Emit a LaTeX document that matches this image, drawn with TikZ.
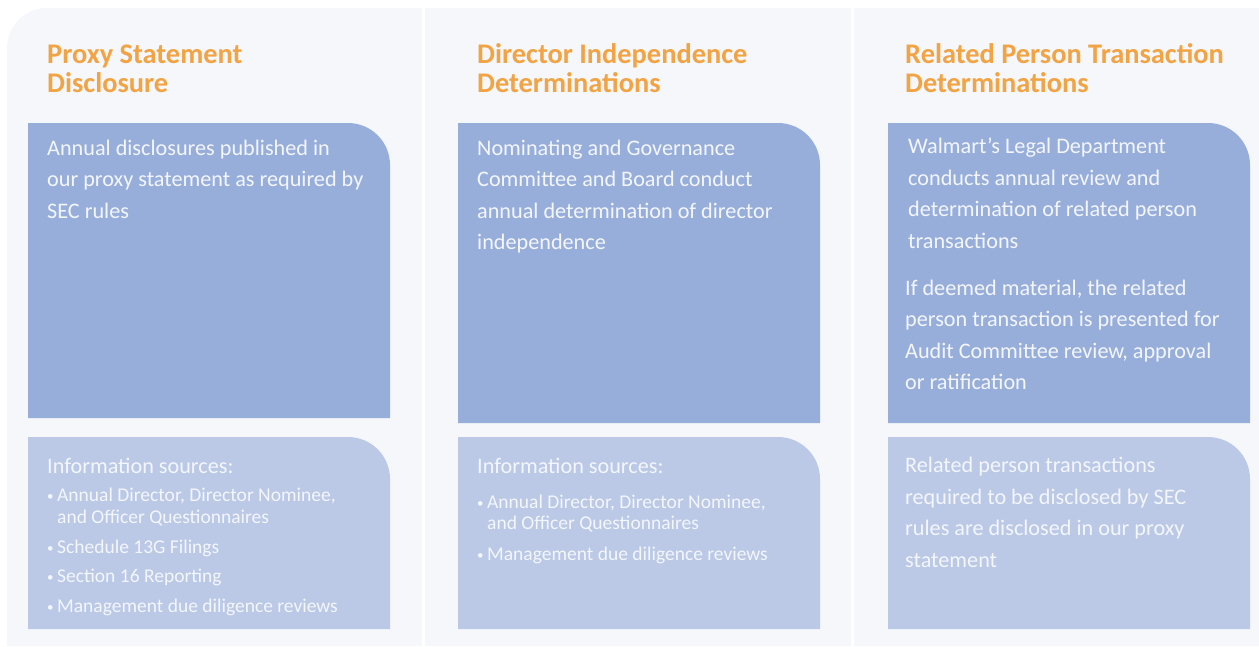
\documentclass[tikz,border=0pt]{standalone}
\usepackage{fontspec}
\setmainfont{Carlito}

\definecolor{panelbg}{RGB}{245,247,251}
\definecolor{darkblue}{RGB}{152,174,218}
\definecolor{lightblue}{RGB}{187,201,230}
\definecolor{titleorange}{RGB}{242,163,67}
\definecolor{boxtext}{RGB}{243,246,252}

\newcommand{\bul}{\makebox[10pt][l]{\raisebox{1pt}{\fontsize{13}{13}\selectfont\textbullet}}}

\begin{document}
\begin{tikzpicture}[x=1pt,y=-1pt,
    panel/.style={fill=panelbg},
    dark box/.style={fill=darkblue},
    light box/.style={fill=lightblue},
    % base anchor of a multi-line node sits on its last line
    head node/.style={anchor=base west,inner sep=0pt,align=left,
      text=titleorange,font=\fontsize{28.4}{29}\selectfont\bfseries},
    main node/.style={anchor=base west,inner sep=0pt,align=left,
      text=boxtext,font=\fontsize{22.2}{31.5}\selectfont},
    bullet node/.style={anchor=base west,inner sep=0pt,align=left,
      text=boxtext,font=\fontsize{19.5}{21.5}\selectfont}]

    \useasboundingbox (0,0) rectangle (1259,646);

    % background panel and column gaps
    \fill[panel] (7,646) -- (7,48) arc[start angle=180,end angle=270,radius=40]
      -- (1259,8) -- (1259,646) -- cycle;
    \draw[white,line width=3pt] (423,8) -- (423,646);
    \draw[white,line width=3pt] (852,8) -- (852,646);

    % upper boxes
    \fill[dark box] (28,418) -- (28,123) -- (348,123)
      arc[start angle=-90,end angle=0,radius=42] -- (390,418) -- cycle;
    \fill[dark box] (458,423) -- (458,123) -- (778,123)
      arc[start angle=-90,end angle=0,radius=42] -- (820,423) -- cycle;
    \fill[dark box] (888,423) -- (888,123) -- (1208,123)
      arc[start angle=-90,end angle=0,radius=42] -- (1250,423) -- cycle;

    % lower boxes
    \fill[light box] (28,629) -- (28,437) -- (348,437)
      arc[start angle=-90,end angle=0,radius=42] -- (390,629) -- cycle;
    \fill[light box] (458,629) -- (458,437) -- (778,437)
      arc[start angle=-90,end angle=0,radius=42] -- (820,629) -- cycle;
    \fill[light box] (888,629) -- (888,437) -- (1208,437)
      arc[start angle=-90,end angle=0,radius=42] -- (1250,629) -- cycle;

    \node[head node] (h1) at (47,92) {Proxy Statement\\Disclosure};
    \node[head node] (h2) at (477,92) {Director Independence\\Determinations};
    \node[head node] (h3) at (905,92) {Related Person Transaction\\Determinations};

    \node[main node] (m1) at (47,218) {Annual disclosures published in\\
      our proxy statement as required by\\SEC rules};
    \node[main node] (m2) at (477,249.5) {Nominating and Governance\\
      Committee and Board conduct\\annual determination of director\\
      independence};
    \node[main node] (m3) at (908,248) {Walmart’s Legal Department\\
      conducts annual review and\\determination of related person\\
      transactions};
    \node[main node] (m4) at (905,389.5) {If deemed material, the related\\
      person transaction is presented for\\Audit Committee review, approval\\
      or ratification};

    \node[main node] (s1) at (47,473) {Information sources:};
    \node[bullet node] (b1) at (47,612) {%
      \bul Annual Director, Director Nominee,\\
      \hspace*{10pt}and Officer Questionnaires\\[8.5pt]
      \bul Schedule 13G Filings\\[7.5pt]
      \bul Section 16 Reporting\\[8.5pt]
      \bul Management due diligence reviews};
    \node[main node] (s2) at (477,473) {Information sources:};
    \node[bullet node] (b2) at (477,560) {%
      \bul Annual Director, Director Nominee,\\
      \hspace*{10pt}and Officer Questionnaires\\[9pt]
      \bul Management due diligence reviews};
    \node[main node] (s3) at (905,567) {Related person transactions\\
      required to be disclosed by SEC\\rules are disclosed in our proxy\\
      statement};
  \end{tikzpicture}
\end{document}
